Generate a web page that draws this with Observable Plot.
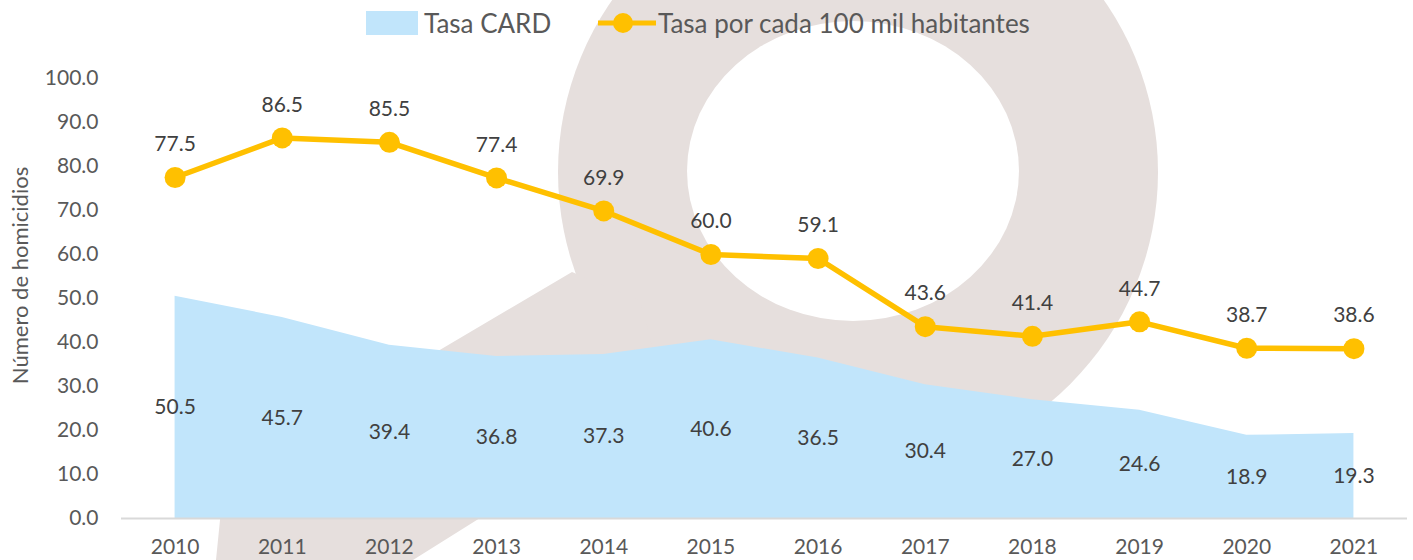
<!DOCTYPE html>
<html>
<head>
<meta charset="utf-8">
<script src="https://cdn.jsdelivr.net/npm/d3@7"></script>
<script src="https://cdn.jsdelivr.net/npm/@observablehq/plot@0.6"></script>
<style>
  html, body { margin: 0; padding: 0; background: #ffffff; }
  body { width: 1413px; height: 560px; position: relative; overflow: hidden; font-family: Lato, "Open Sans", sans-serif; }
  #watermark { position: absolute; left: 0; top: 0; z-index: 0; }
  #legend { position: relative; z-index: 1; height: 45px; width: 1413px; }
  .lg-item { position: absolute; top: 0; height: 45px; display: flex; align-items: center; font-size: 26px; color: #595959; white-space: nowrap; }
  #chart { position: relative; z-index: 1; }
</style>
</head>
<body>
<svg id="watermark" width="1413" height="560" aria-hidden="true">
  <circle cx="858" cy="172" r="300" fill="#e6dfdd"></circle>
  <path d="M572,272 L250,462 L222,500 L216,560 L413,560 L480,518 L667,402 L640,300 Z" fill="#e6dfdd"></path>
  <ellipse cx="853" cy="171" rx="166" ry="150" fill="#ffffff"></ellipse>
</svg>
<div id="legend">
  <div class="lg-item" style="left:366px;">
    <span style="display:inline-block;width:52px;height:24px;background:#c1e5fb;margin-right:6px;"></span>
    <span>Tasa CARD</span>
  </div>
  <div class="lg-item" style="left:598px;">
    <svg width="58" height="26" style="margin-right:2px;"><line x1="0" y1="13" x2="58" y2="13" stroke="#ffc000" stroke-width="5"></line><circle cx="25" cy="13" r="10" fill="#ffc000"></circle></svg>
    <span>Tasa por cada 100 mil habitantes</span>
  </div>
</div>
<div id="chart"></div>
<script>
const years = [2010, 2011, 2012, 2013, 2014, 2015, 2016, 2017, 2018, 2019, 2020, 2021];
const tasaCARD = [50.5, 45.7, 39.4, 36.8, 37.3, 40.6, 36.5, 30.4, 27.0, 24.6, 18.9, 19.3];
const tasa100mil = [77.5, 86.5, 85.5, 77.4, 69.9, 60.0, 59.1, 43.6, 41.4, 44.7, 38.7, 38.6];
const yTicks = [0, 10, 20, 30, 40, 50, 60, 70, 80, 90, 100];
const yTitle = "Número de homicidios";

const data = years.map((year, i) => ({year, card: tasaCARD[i], tasa: tasa100mil[i]}));

const areaColor = "#c1e5fb";
const lineColor = "#ffc000";

const plot = Plot.plot({
  width: 1413,
  height: 515,
  marginLeft: 121,
  marginRight: 6,
  marginTop: 33,
  marginBottom: 42,
  style: "background: transparent; overflow: visible; font-family: Lato, 'Open Sans', sans-serif;",
  x: {domain: [2009.5, 2021.5], axis: null},
  y: {domain: [0, 100], axis: null},
  marks: [
    Plot.areaY(data, {x: "year", y: "card", fill: areaColor}),
    Plot.ruleY([0], {stroke: "#d9d9d9", strokeWidth: 2}),
    Plot.axisY({ticks: yTicks, tickSize: 0, tickPadding: 23, tickFormat: d => d.toFixed(1), fontSize: 21, fill: "#595959", label: null}),
    Plot.axisX({ticks: years, tickSize: 0, tickPadding: 21, tickFormat: d => String(d), fontSize: 21, fill: "#595959", label: null}),
    Plot.text([yTitle], {frameAnchor: "left", textAnchor: "middle", text: d => d, rotate: -90, dx: -101, dy: -23, fontSize: 22, fill: "#595959"}),
    Plot.text(data, {x: "year", y: d => d.card / 2, text: d => d.card.toFixed(1), fontSize: 21, fill: "#404040"}),
    Plot.line(data, {x: "year", y: "tasa", stroke: lineColor, strokeWidth: 5.5}),
    Plot.dot(data, {x: "year", y: "tasa", r: 10.5, fill: lineColor}),
    Plot.text(data, {x: "year", y: "tasa", text: d => d.tasa.toFixed(1), dy: -33, fontSize: 21, fill: "#404040"})
  ]
});
document.getElementById("chart").appendChild(plot);
</script>
</body>
</html>
